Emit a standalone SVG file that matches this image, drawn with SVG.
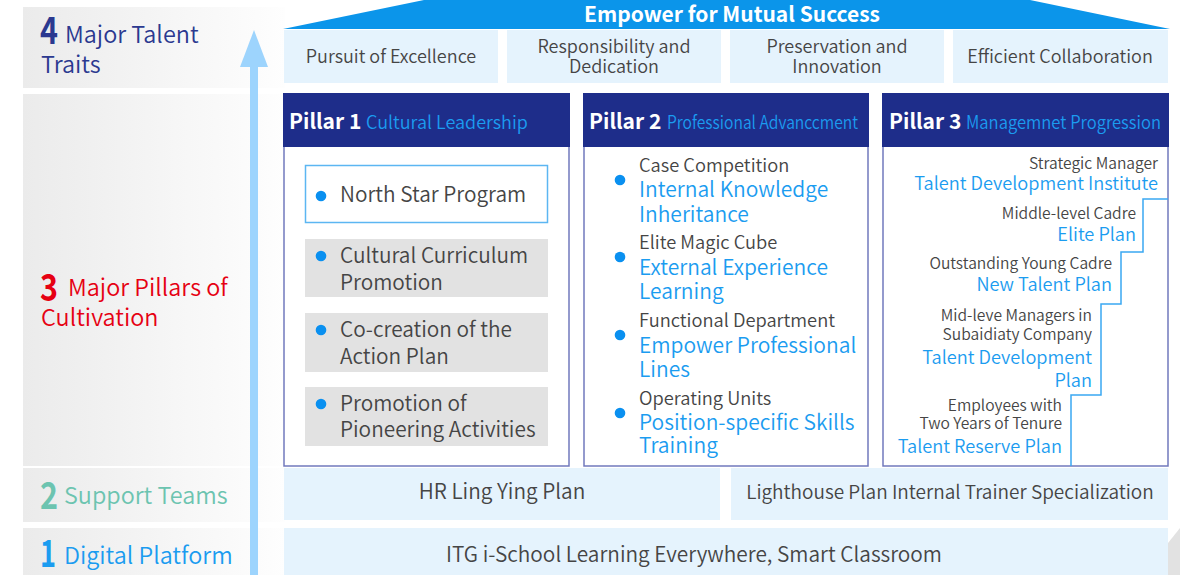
<svg xmlns="http://www.w3.org/2000/svg" width="1180" height="575" viewBox="0 0 1180 575">
<defs>
<linearGradient id="lg" x1="0" y1="0" x2="1" y2="0">
<stop offset="0" stop-color="#ebebeb"/>
<stop offset="1" stop-color="#fefefe"/>
</linearGradient>
<style>
text{font-family:"Noto Sans CJK SC","Noto Sans",sans-serif;font-weight:350;}
.lp{fill:url(#lg);}
.lb{fill:#e5f3fd;}
.g{fill:#454545;}
.b{fill:#1b9cf0;}
.hd{fill:#1e2d8a;}
.bd{fill:#fff;stroke:#7179bd;stroke-width:1.5;}
.ht{fill:#fff;font-weight:bold;font-size:21px;}
.rt{fill:#fff;font-weight:bold;font-size:21px;}
.hs{fill:#1b9cf0;font-size:18px;}
.dot{fill:#0a90f0;}
.gb{fill:#e2e2e2;}
.tr{font-size:18px;}
.p1{font-size:20.8px;}
.p2g{font-size:18.3px;}
.p2b{font-size:21px;}
.p3g{font-size:15.6px;}
.p3b{font-size:18.2px;}
.bt{font-size:20.8px;}
.lab{font-size:23.4px;}
.dig{font-size:38px;font-weight:bold;}
.mid{text-anchor:middle;}
.end{text-anchor:end;}
</style>
</defs>
<rect width="1180" height="575" fill="#fff"/>

<g id="left-panels">
<rect class="lp" x="23" y="7" width="262" height="81"/>
<rect class="lp" x="23" y="94" width="262" height="372"/>
<rect class="lp" x="23" y="468" width="262" height="54"/>
<rect class="lp" x="23" y="528" width="262" height="47"/>
</g>

<g id="connectors">
<rect x="250" y="62" width="8" height="513" fill="#9dd4fd"/>
<polygon points="254,30 268,67 240,67" fill="#9dd4fd"/>
</g>

<g id="label-4">
<text x="40" y="44" class="dig" fill="#2b3990" textLength="18" lengthAdjust="spacingAndGlyphs">4</text>
<text x="65" y="43" class="lab" fill="#2b3990">Major Talent</text>
<text x="41" y="73" class="lab" fill="#2b3990">Traits</text>
</g>
<g id="label-3">
<text x="40" y="301" class="dig" fill="#e60012" textLength="18" lengthAdjust="spacingAndGlyphs">3</text>
<text x="68" y="296" class="lab" fill="#e60012">Major Pillars of</text>
<text x="41" y="326" class="lab" fill="#e60012">Cultivation</text>
</g>
<g id="label-2">
<text x="40" y="509" class="dig" fill="#6cc4b0" textLength="18" lengthAdjust="spacingAndGlyphs">2</text>
<text x="64" y="504" class="lab" fill="#6cc4b0">Support Teams</text>
</g>
<g id="label-1">
<text x="40" y="567" class="dig" fill="#1b9cf0" textLength="16" lengthAdjust="spacingAndGlyphs">1</text>
<text x="64" y="564" class="lab" fill="#1b9cf0">Digital Platform</text>
</g>

<g id="roof">
<polygon points="283,29 424,0 1030,0 1170,29" fill="#0b95ea"/>
<text x="732" y="22" class="rt mid">Empower for Mutual Success</text>
</g>

<g id="trait-1"><rect class="lb" x="284" y="30" width="214" height="53"/><text x="391" y="63" class="g tr mid">Pursuit of Excellence</text></g>
<g id="trait-2"><rect class="lb" x="507" y="30" width="214" height="53"/><text x="614" y="53" class="g tr mid">Responsibility and</text><text x="614" y="73" class="g tr mid">Dedication</text></g>
<g id="trait-3"><rect class="lb" x="730" y="30" width="214" height="53"/><text x="837" y="53" class="g tr mid">Preservation and</text><text x="837" y="73" class="g tr mid">Innovation</text></g>
<g id="trait-4"><rect class="lb" x="953" y="30" width="215" height="53"/><text x="1060" y="63" class="g tr mid">Efficient Collaboration</text></g>

<g id="pillar-1">
<rect class="bd" x="284" y="94" width="285" height="372"/>
<rect class="hd" x="283" y="93" width="287" height="54"/>
<text x="289" y="129" class="ht">Pillar 1</text>
<text x="366" y="129" class="hs">Cultural Leadership</text>
<rect x="305.5" y="165.5" width="242" height="57" fill="#fff" stroke="#5cb6f2" stroke-width="1.5"/>
<circle class="dot" cx="321" cy="196" r="5.3"/>
<text x="340" y="202" class="g p1">North Star Program</text>
<rect class="gb" x="305" y="239" width="243" height="58"/>
<circle class="dot" cx="321" cy="256" r="5.3"/>
<text x="340" y="263" class="g p1">Cultural Curriculum</text>
<text x="340" y="290" class="g p1">Promotion</text>
<rect class="gb" x="305" y="313" width="243" height="59"/>
<circle class="dot" cx="321" cy="330" r="5.3"/>
<text x="340" y="337" class="g p1">Co-creation of the</text>
<text x="340" y="364" class="g p1">Action Plan</text>
<rect class="gb" x="305" y="387" width="243" height="59"/>
<circle class="dot" cx="321" cy="404" r="5.3"/>
<text x="340" y="411" class="g p1">Promotion of</text>
<text x="340" y="437" class="g p1">Pioneering Activities</text>
</g>

<g id="pillar-2">
<rect class="bd" x="584" y="94" width="284" height="372"/>
<rect class="hd" x="583" y="93" width="286" height="54"/>
<text x="589" y="129" class="ht">Pillar 2</text>
<text x="667" y="129" class="hs" textLength="191" lengthAdjust="spacingAndGlyphs">Professional Advanccment</text>
<circle class="dot" cx="620" cy="180" r="5.3"/>
<text x="639" y="172" class="g p2g">Case Competition</text>
<text x="639" y="197" class="b p2b">Internal Knowledge</text>
<text x="639" y="222" class="b p2b">Inheritance</text>
<circle class="dot" cx="620" cy="257" r="5.3"/>
<text x="639" y="249" class="g p2g">Elite Magic Cube</text>
<text x="639" y="275" class="b p2b">External Experience</text>
<text x="639" y="299" class="b p2b">Learning</text>
<circle class="dot" cx="620" cy="335" r="5.3"/>
<text x="639" y="327" class="g p2g">Functional Department</text>
<text x="639" y="353" class="b p2b">Empower Professional</text>
<text x="639" y="377" class="b p2b">Lines</text>
<circle class="dot" cx="620" cy="413" r="5.3"/>
<text x="639" y="405" class="g p2g">Operating Units</text>
<text x="639" y="430" class="b p2b">Position-specific Skills</text>
<text x="639" y="453" class="b p2b">Training</text>
</g>

<g id="pillar-3">
<rect class="bd" x="883" y="94" width="285" height="372"/>
<rect class="hd" x="882" y="93" width="287" height="54"/>
<text x="889" y="129" class="ht">Pillar 3</text>
<text x="966" y="129" class="hs" textLength="195" lengthAdjust="spacingAndGlyphs">Managemnet Progression</text>
<polyline points="1168,199 1143,199 1143,252 1121,252 1121,304 1101,304 1101,395 1071,395 1071,466" fill="none" stroke="#3aa8f2" stroke-width="1.5"/>
<text x="1158" y="169" class="g p3g end">Strategic Manager</text>
<text x="1158" y="190" class="b p3b end">Talent Development Institute</text>
<text x="1136" y="219" class="g p3g end">Middle-level Cadre</text>
<text x="1136" y="241" class="b p3b end">Elite Plan</text>
<text x="1112" y="269" class="g p3g end">Outstanding Young Cadre</text>
<text x="1112" y="291" class="b p3b end">New Talent Plan</text>
<text x="1092" y="321" class="g p3g end">Mid-leve Managers in</text>
<text x="1092" y="340" class="g p3g end">Subaidiaty Company</text>
<text x="1092" y="364" class="b p3b end">Talent Development</text>
<text x="1092" y="387" class="b p3b end">Plan</text>
<text x="1062" y="411" class="g p3g end">Employees with</text>
<text x="1062" y="429" class="g p3g end">Two Years of Tenure</text>
<text x="1062" y="453" class="b p3b end">Talent Reserve Plan</text>
</g>

<g id="support-hr"><rect class="lb" x="284" y="468" width="436" height="52"/><text x="502" y="499" class="g bt mid">HR Ling Ying Plan</text></g>
<g id="support-lighthouse"><rect class="lb" x="731" y="468" width="437" height="52"/><text x="950" y="499" class="g mid" font-size="19">Lighthouse Plan Internal Trainer Specialization</text></g>
<g id="platform"><rect class="lb" x="284" y="528" width="884" height="47"/><text x="694" y="562" class="g bt mid">ITG i-School Learning Everywhere, Smart Classroom</text></g>
<polygon points="1168,543 1180,528 1180,575 1168,575" fill="#e2e2e2"/>
</svg>
